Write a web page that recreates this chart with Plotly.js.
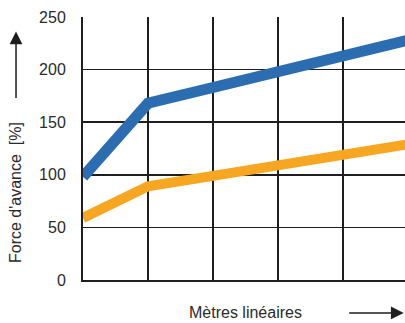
<!DOCTYPE html>
<html><head><meta charset="utf-8">
<script src="https://cdn.plot.ly/plotly-3.0.1.min.js"></script>
<style>html,body{margin:0;padding:0;background:#fff;}#c{width:405px;height:323px;}</style>
</head><body><div id="c"></div>
<script>
const xPos = [0, 1, 2, 3, 4, 5];
const blueSeries = [98, 168, 183, 198, 213, 228];
const orangeSeries = [59, 89, 99, 109, 119, 129];
const yTicks = [0, 50, 100, 150, 200, 250];
const yTitle = "Force d'avance  [%]";
const xTitle = "Mètres linéaires";

const font = "Liberation Sans, Arial, sans-serif";
const data = [
  {x: xPos, y: blueSeries, mode: 'lines', line: {color: '#2b6db0', width: 11}, hoverinfo: 'skip'},
  {x: xPos, y: orangeSeries, mode: 'lines', line: {color: '#f7a622', width: 10}, hoverinfo: 'skip'}
];
const layout = {
  width: 405, height: 323,
  margin: {l: 83, r: 0, t: 17, b: 43},
  paper_bgcolor: '#fff', plot_bgcolor: '#fff',
  showlegend: false,
  font: {family: font, color: '#2a2a2a', size: 16},
  xaxis: {range: [0, 4.954], tickvals: [0,1,2,3,4,5], showticklabels: false, showgrid: true,
          gridcolor: '#1e1e1e', gridwidth: 1.6, zeroline: false, showline: true,
          linecolor: '#1e1e1e', linewidth: 2, layer: 'above traces', ticks: ''},
  yaxis: {range: [0, 250], tickvals: yTicks, ticktext: yTicks.map(String), showgrid: true,
          gridcolor: '#1e1e1e', gridwidth: 1.6, zeroline: false, showline: true,
          linecolor: '#1e1e1e', linewidth: 2, layer: 'above traces', ticks: '',
          ticklabelstandoff: 12, tickfont: {size: 16, color: '#2a2a2a'}},
  annotations: [
    {xref: 'paper', yref: 'paper', x: -0.208, y: 0.331, text: yTitle, textangle: -90,
     showarrow: false, font: {size: 16}, xanchor: 'center', yanchor: 'middle'},
    {xref: 'paper', yref: 'paper', x: -0.208, y: 0.945, text: '', showarrow: true,
     ax: 0, ay: 68, arrowhead: 2, arrowsize: 1.7, arrowwidth: 1.5, arrowcolor: '#1e1e1e'},
    {xref: 'paper', yref: 'paper', x: 0.506, y: -0.122, text: xTitle,
     showarrow: false, font: {size: 16}, xanchor: 'center', yanchor: 'middle'},
    {xref: 'paper', yref: 'paper', x: 0.996, y: -0.125, text: '', showarrow: true,
     ax: -56, ay: 0, arrowhead: 2, arrowsize: 1.7, arrowwidth: 1.5, arrowcolor: '#1e1e1e'}
  ]
};
Plotly.newPlot('c', data, layout, {staticPlot: true});
</script></body></html>
